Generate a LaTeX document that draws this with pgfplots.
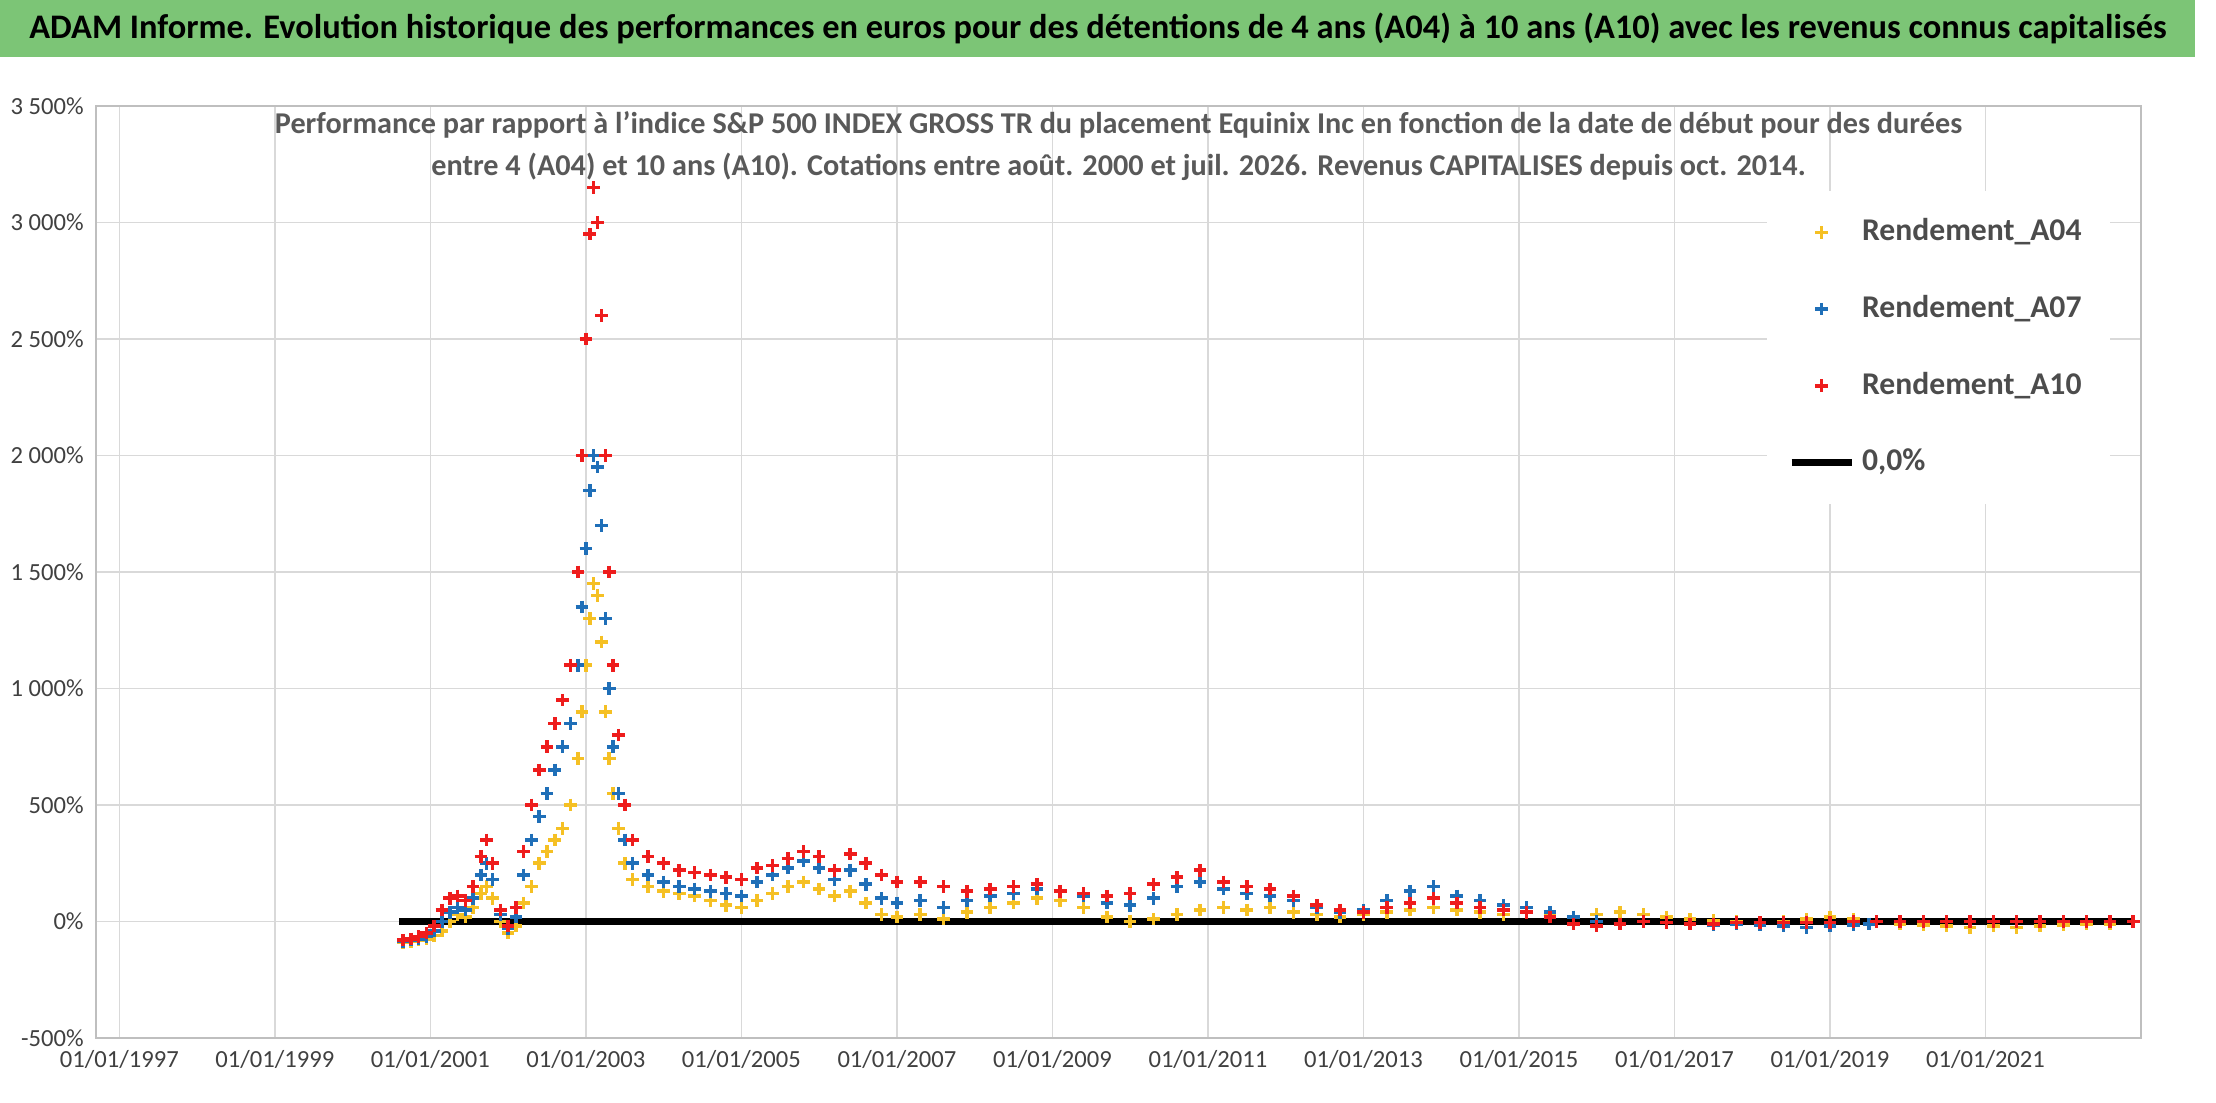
\documentclass[border=0pt]{standalone}
\usepackage{pgfplots}
\pgfplotsset{compat=1.18}
\usepackage{fontspec}
\setmainfont{Carlito}
\definecolor{cA}{HTML}{F5C024}
\definecolor{cB}{HTML}{1F6FB8}
\definecolor{cC}{HTML}{EE1C1C}
\definecolor{tbar}{HTML}{7CC576}
\begin{document}
\begin{tikzpicture}
\useasboundingbox (0,0) rectangle (22.16,11.02);
\fill[tbar] (0,10.45) rectangle (21.95,11.02);
\node[font=\fontsize{9.8}{12}\selectfont\bfseries] at (10.98,10.735) {ADAM Informe. Evolution historique des performances en euros pour des détentions de 4 ans (A04) à 10 ans (A10) avec les revenus connus capitalisés};
\begin{axis}[at={(0.96cm,0.64cm)},anchor=south west,scale only axis,width=20.45cm,height=9.32cm,
xmin=1996.7,xmax=2023.0,ymin=-500,ymax=3500,
xtick={1997,1999,...,2021},
xticklabels={01/01/1997,01/01/1999,01/01/2001,01/01/2003,01/01/2005,01/01/2007,01/01/2009,01/01/2011,01/01/2013,01/01/2015,01/01/2017,01/01/2019,01/01/2021},
ytick={-500,0,...,3500},
yticklabels={-500\%,0\%,500\%,1 000\%,1 500\%,2 000\%,2 500\%,3 000\%,3 500\%},
ticklabel style={font=\fontsize{7}{8}\selectfont,text=black!75},
grid=major,grid style={black!15},axis line style={black!25},tick style={draw=none},
legend style={at={(0.985,0.91)},anchor=north east,draw=none,fill=white,font=\fontsize{9}{11}\selectfont\bfseries,text=black!70,row sep=10pt,inner sep=6pt},
legend cell align=left,
title style={at={(0.5,1)},anchor=north,yshift=-4pt,align=center,font=\fontsize{8.6}{12}\selectfont\bfseries,text=black!65},
title={Performance par rapport à l'indice S\&P 500 INDEX GROSS TR  du placement Equinix Inc en fonction de la date de début pour des durées\\entre 4 (A04) et 10 ans (A10). Cotations entre août. 2000 et juil. 2026. Revenus CAPITALISES depuis oct. 2014.}
]
\pgfplotsset{every axis plot/.append style={mark options={line width=1pt}}}
\addplot[only marks,mark=+,mark size=1.8pt,cA] coordinates {
(2000.65,-90)(2000.75,-85)(2000.85,-80)(2000.95,-75)(2001.05,-60)(2001.15,-40)(2001.25,0)(2001.35,30)(2001.45,20)(2001.55,60)(2001.65,120)(2001.72,150)(2001.8,100)(2001.9,0)(2002.0,-50)(2002.1,-20)(2002.2,80)(2002.3,150)(2002.4,250)(2002.5,300)(2002.6,350)(2002.7,400)(2002.8,500)(2002.9,700)(2002.95,900)(2003.0,1100)(2003.05,1300)(2003.1,1450)(2003.15,1400)(2003.2,1200)(2003.25,900)(2003.3,700)(2003.35,550)(2003.42,400)(2003.5,250)(2003.6,180)(2003.8,150)(2004.0,130)(2004.2,120)(2004.4,110)(2004.6,90)(2004.8,70)(2005.0,60)(2005.2,90)(2005.4,120)(2005.6,150)(2005.8,170)(2006.0,140)(2006.2,110)(2006.4,130)(2006.6,80)(2006.8,30)(2007.0,20)(2007.3,30)(2007.6,10)(2007.9,40)(2008.2,60)(2008.5,80)(2008.8,100)(2009.1,90)(2009.4,60)(2009.7,20)(2010.0,0)(2010.3,10)(2010.6,30)(2010.9,50)(2011.2,60)(2011.5,50)(2011.8,60)(2012.1,40)(2012.4,30)(2012.7,20)(2013.0,30)(2013.3,40)(2013.6,50)(2013.9,60)(2014.2,50)(2014.5,40)(2014.8,30)(2015.1,40)(2015.4,30)(2015.7,20)(2016.0,30)(2016.3,40)(2016.6,30)(2016.9,20)(2017.2,10)(2017.5,5)(2017.8,0)(2018.1,-5)(2018.4,0)(2018.7,10)(2019.0,20)(2019.3,10)(2019.6,0)(2019.9,-10)(2020.2,-15)(2020.5,-20)(2020.8,-25)(2021.1,-20)(2021.4,-25)(2021.7,-20)(2022.0,-15)(2022.3,-10)(2022.6,-10)};
\addplot[only marks,mark=+,mark size=1.8pt,cB] coordinates {
(2000.65,-85)(2000.75,-80)(2000.85,-75)(2000.95,-65)(2001.05,-40)(2001.15,0)(2001.25,40)(2001.35,60)(2001.45,50)(2001.55,100)(2001.65,200)(2001.72,250)(2001.8,180)(2001.9,30)(2002.0,-30)(2002.1,20)(2002.2,200)(2002.3,350)(2002.4,450)(2002.5,550)(2002.6,650)(2002.7,750)(2002.8,850)(2002.9,1100)(2002.95,1350)(2003.0,1600)(2003.05,1850)(2003.1,2000)(2003.15,1950)(2003.2,1700)(2003.25,1300)(2003.3,1000)(2003.35,750)(2003.42,550)(2003.5,350)(2003.6,250)(2003.8,200)(2004.0,170)(2004.2,150)(2004.4,140)(2004.6,130)(2004.8,120)(2005.0,110)(2005.2,170)(2005.4,200)(2005.6,230)(2005.8,260)(2006.0,230)(2006.2,180)(2006.4,220)(2006.6,160)(2006.8,100)(2007.0,80)(2007.3,90)(2007.6,60)(2007.9,90)(2008.2,110)(2008.5,120)(2008.8,140)(2009.1,130)(2009.4,110)(2009.7,80)(2010.0,70)(2010.3,100)(2010.6,150)(2010.9,170)(2011.2,140)(2011.5,120)(2011.8,110)(2012.1,90)(2012.4,60)(2012.7,40)(2013.0,50)(2013.3,90)(2013.6,130)(2013.9,150)(2014.2,110)(2014.5,90)(2014.8,70)(2015.1,60)(2015.4,40)(2015.7,20)(2016.0,0)(2016.3,-10)(2016.6,0)(2016.9,-5)(2017.2,-10)(2017.5,-15)(2017.8,-10)(2018.1,-15)(2018.4,-20)(2018.7,-25)(2019.0,-20)(2019.3,-15)(2019.5,-10)};
\addplot[only marks,mark=+,mark size=1.8pt,cC] coordinates {
(2000.65,-80)(2000.75,-75)(2000.85,-65)(2000.95,-50)(2001.05,-20)(2001.15,50)(2001.25,100)(2001.35,110)(2001.45,90)(2001.55,150)(2001.65,280)(2001.72,350)(2001.8,250)(2001.9,50)(2002.0,-20)(2002.1,60)(2002.2,300)(2002.3,500)(2002.4,650)(2002.5,750)(2002.6,850)(2002.7,950)(2002.8,1100)(2002.9,1500)(2002.95,2000)(2003.0,2500)(2003.05,2950)(2003.1,3150)(2003.15,3000)(2003.2,2600)(2003.25,2000)(2003.3,1500)(2003.35,1100)(2003.42,800)(2003.5,500)(2003.6,350)(2003.8,280)(2004.0,250)(2004.2,220)(2004.4,210)(2004.6,200)(2004.8,190)(2005.0,180)(2005.2,230)(2005.4,240)(2005.6,270)(2005.8,300)(2006.0,280)(2006.2,220)(2006.4,290)(2006.6,250)(2006.8,200)(2007.0,170)(2007.3,170)(2007.6,150)(2007.9,130)(2008.2,140)(2008.5,150)(2008.8,160)(2009.1,130)(2009.4,120)(2009.7,110)(2010.0,120)(2010.3,160)(2010.6,190)(2010.9,220)(2011.2,170)(2011.5,150)(2011.8,140)(2012.1,110)(2012.4,70)(2012.7,50)(2013.0,40)(2013.3,60)(2013.6,80)(2013.9,100)(2014.2,80)(2014.5,60)(2014.8,50)(2015.1,40)(2015.4,20)(2015.7,-10)(2016.0,-20)(2016.3,-10)(2016.6,0)(2016.9,-5)(2017.2,-10)(2017.5,-10)(2017.8,-5)(2018.1,-5)(2018.4,-5)(2018.7,-5)(2019.0,-5)(2019.3,0)(2019.6,0)(2019.9,0)(2020.2,0)(2020.5,0)(2020.8,0)(2021.1,0)(2021.4,0)(2021.7,0)(2022.0,0)(2022.3,0)(2022.6,0)(2022.9,0)};
\addplot[black,line width=2pt] coordinates {(2000.6,0)(2022.9,0)};
\legend{Rendement\_A04,Rendement\_A07,Rendement\_A10,{0,0\%}}
\end{axis}
\end{tikzpicture}
\end{document}
